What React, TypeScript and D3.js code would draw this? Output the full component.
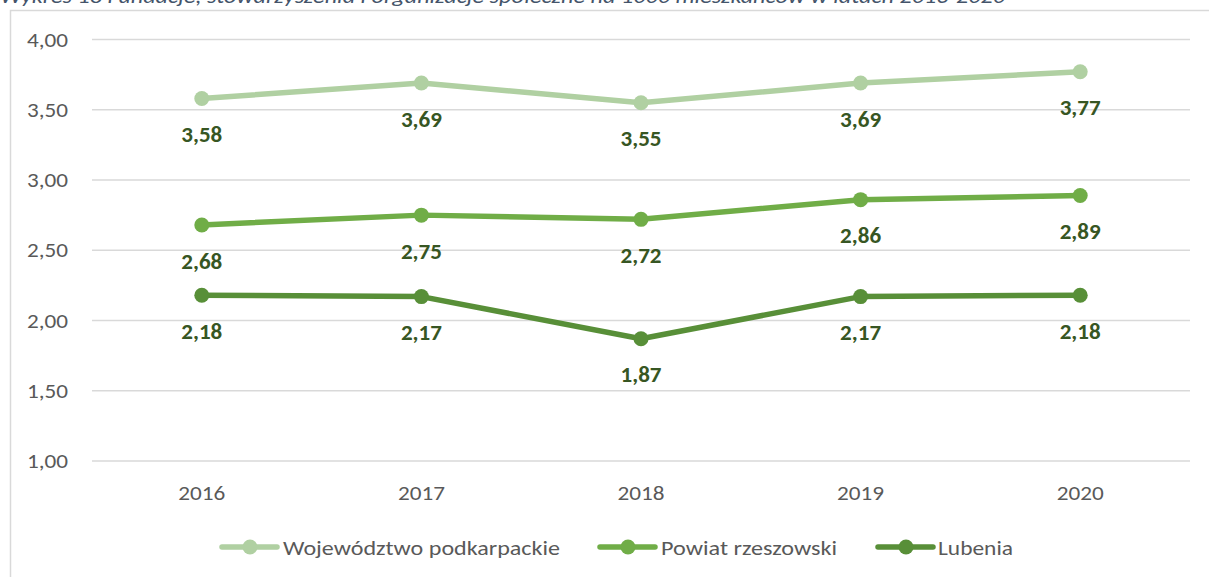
import React from "react";
import * as d3 from "d3";

const title = "Wykres 18 Fundacje, stowarzyszenia i organizacje społeczne na 1000 mieszkańców w latach 2016-2020";
const years = ["2016", "2017", "2018", "2019", "2020"];
const seriesNames = ["Województwo podkarpackie", "Powiat rzeszowski", "Lubenia"];
const wojewodztwo = [3.58, 3.69, 3.55, 3.69, 3.77];
const powiat = [2.68, 2.75, 2.72, 2.86, 2.89];
const lubenia = [2.18, 2.17, 1.87, 2.17, 2.18];
const yTicks = [1.0, 1.5, 2.0, 2.5, 3.0, 3.5, 4.0];
const colors = ["#B0D0A2", "#70AD47", "#588F38"];

export default function App() {
  const W = 1209, H = 577;
  const x = d3.scaleBand<string>().domain(years).range([92, 1190]);
  const y = d3.scaleLinear().domain([1, 4]).range([461, 39.5]);
  const fmt = (v: number) => v.toFixed(2).replace(".", ",");
  const line = d3.line<number>().x((_, i) => x(years[i])! + x.bandwidth() / 2).y(d => y(d));
  const all = [wojewodztwo, powiat, lubenia];
  const font = "Calibri, Carlito, Lato, sans-serif";
  const legendItems = [
    { x: 222, tx: 283, w: 277 },
    { x: 600, tx: 661, w: 176 },
    { x: 878, tx: 938, w: 75 },
  ];
  const ly = 547;
  return (
    <svg width={W} height={H} style={{ position: "absolute", left: 0, top: 0 }} fontFamily={font}>
      <rect x={0} y={0} width={W} height={H} fill="#fff" />
      <text x={0} y={3} fontSize={21} fontStyle="italic" fill="#44546A" textLength={1005} lengthAdjust="spacingAndGlyphs">{title}</text>
      <rect x={10.5} y={10.5} width={1300} height={700} fill="none" stroke="#D9D9D9" strokeWidth={1.5} />
      {yTicks.map(t => (
        <g key={t}>
          <line x1={92} x2={1190} y1={y(t)} y2={y(t)} stroke="#D9D9D9" strokeWidth={1.5} />
          <text x={68} y={y(t)} dy="0.36em" textAnchor="end" fontSize={20} fill="#595959" textLength={41} lengthAdjust="spacingAndGlyphs">{fmt(t)}</text>
        </g>
      ))}
      {years.map(yr => (
        <text key={yr} x={x(yr)! + x.bandwidth() / 2} y={492.5} dy="0.36em" textAnchor="middle" fontSize={20.5} fill="#595959" textLength={47} lengthAdjust="spacingAndGlyphs">{yr}</text>
      ))}
      {all.map((s, si) => (
        <g key={si}>
          <path d={line(s)!} fill="none" stroke={colors[si]} strokeWidth={5.5} strokeLinejoin="round" />
          {s.map((v, i) => (
            <circle key={i} cx={x(years[i])! + x.bandwidth() / 2} cy={y(v)} r={7.5} fill={colors[si]} />
          ))}
          {s.map((v, i) => (
            <text key={"l" + i} x={x(years[i])! + x.bandwidth() / 2} y={y(v) + 35.5} dy="0.36em" textAnchor="middle" fontSize={22.5} fontWeight="bold" fill="#375623" textLength={41} lengthAdjust="spacingAndGlyphs">{fmt(v)}</text>
          ))}
        </g>
      ))}
      {seriesNames.map((n, i) => (
        <g key={n}>
          <line x1={legendItems[i].x} x2={legendItems[i].x + 55} y1={ly} y2={ly} stroke={colors[i]} strokeWidth={5.5} strokeLinecap="round" />
          <circle cx={legendItems[i].x + 28} cy={ly} r={7.5} fill={colors[i]} />
          <text x={legendItems[i].tx} y={ly} dy="0.36em" fontSize={21} fill="#595959" textLength={legendItems[i].w} lengthAdjust="spacingAndGlyphs">{n}</text>
        </g>
      ))}
    </svg>
  );
}
